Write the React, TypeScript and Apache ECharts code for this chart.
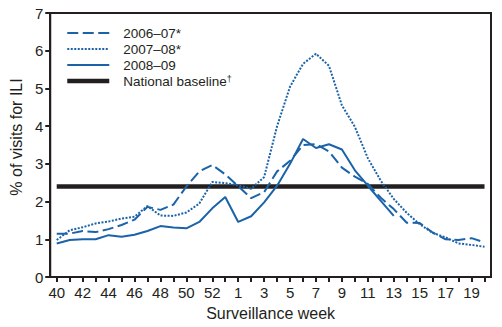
import React, { useEffect, useRef } from "react";
import * as echarts from "echarts";

const weeks = [
  "40","41","42","43","44","45","46","47","48","49","50","51","52","53",
  "1","2","3","4","5","6","7","8","9","10","11","12","13","14","15","16","17","18","19","20",
];

const season0607 = [
  1.15, 1.15, 1.22, 1.19, 1.27, 1.38, 1.52, 1.86, 1.78, 1.92, 2.4, 2.8, 2.97, 2.72,
  2.41, 2.09, 2.25, 2.8, 3.08, 3.5, 3.52, 3.33, 2.9, 2.66, 2.47, 2.1, 1.8, 1.44, 1.43, 1.18, 1.0, 0.98, 1.03, 0.92,
];

const season0708 = [
  0.98, 1.24, 1.32, 1.42, 1.47, 1.55, 1.6, 1.88, 1.63, 1.62, 1.71, 1.95, 2.52, 2.49,
  2.43, 2.34, 2.65, 4.0, 5.05, 5.65, 5.92, 5.6, 4.55, 3.98, 3.15, 2.55, 2.07, 1.7, 1.4, 1.17, 1.05, 0.89, 0.85, 0.8,
];

const season0809: (number | null)[] = [
  0.89, 0.98, 1.0, 1.0, 1.11, 1.07, 1.12, 1.22, 1.35, 1.31, 1.29, 1.46, 1.82, 2.12,
  1.46, 1.61, 1.98, 2.42, 3.0, 3.66, 3.42, 3.52, 3.38, 2.83, 2.42, 2.02, 1.62,
  null, null, null, null, null, null, null,
];

const baselineValue = 2.4;
const baselineStart = "40";
const baselineEnd = "20";

const yTicks = { min: 0, max: 7, interval: 1 };

const names = ["2006–07*", "2007–08*", "2008–09", "National baseline"];

const BLUE = "#1b63a9";
const INK = "#231f20";
const FONT = "'Liberation Sans', Arial, Helvetica, sans-serif";

const DASH = [11, 4.5];
const DOT = [2, 1.5];

export default function App() {
  const ref = useRef<HTMLDivElement>(null);
  useEffect(() => {
    if (!ref.current) return;
    const chart = echarts.init(ref.current, undefined, { renderer: "svg" });
    chart.setOption({
      animation: false,
      textStyle: { fontFamily: FONT, color: INK },
      grid: {
        left: 38,
        right: 11,
        top: 13,
        bottom: 50,
        show: true,
        borderColor: INK,
        borderWidth: 2,
        backgroundColor: "transparent",
      },
      legend: {
        orient: "vertical",
        left: 65,
        top: 26,
        padding: 0,
        itemWidth: 42,
        itemHeight: 14,
        itemGap: 2,
        data: [
          { name: names[0], lineStyle: { width: 2, type: DASH, color: BLUE } },
          { name: names[1], lineStyle: { width: 2, type: DOT, color: BLUE } },
          { name: names[2], lineStyle: { width: 2, color: BLUE } },
          { name: names[3], lineStyle: { width: 4.5, color: INK } },
        ],
        itemStyle: { opacity: 0 },
        formatter: (n: string) => (n === "National baseline" ? "National baseline{sup|†}" : n),
        textStyle: {
          fontFamily: FONT,
          fontSize: 13.5,
          color: INK,
          lineHeight: 14,
          padding: [0, 0, 0, 9],
          rich: {
            sup: { fontSize: 9, lineHeight: 14, verticalAlign: "top", padding: [0, 0, 6, 0], fontFamily: FONT, color: INK },
          },
        },
      },
      xAxis: {
        type: "category",
        data: weeks,
        boundaryGap: true,
        name: "Surveillance week",
        nameLocation: "middle",
        nameGap: 28,
        nameTextStyle: { fontSize: 16, color: INK, fontFamily: FONT },
        axisLine: { show: true, lineStyle: { color: INK, width: 2 } },
        axisTick: { show: true, alignWithLabel: true, interval: 0, length: 5, lineStyle: { color: INK, width: 2 } },
        axisLabel: { interval: 1, fontSize: 15, color: INK, margin: 8, fontFamily: FONT },
        splitLine: { show: false },
      },
      yAxis: {
        type: "value",
        min: yTicks.min,
        max: yTicks.max,
        interval: yTicks.interval,
        name: "% of visits for ILI",
        nameLocation: "middle",
        nameGap: 19,
        nameTextStyle: { fontSize: 16, color: INK, fontFamily: FONT, padding: [0, 0, 0, 16] },
        axisLine: { show: true, lineStyle: { color: INK, width: 2 } },
        axisTick: { show: true, length: 5, lineStyle: { color: INK, width: 2 } },
        axisLabel: { fontSize: 15, color: INK, margin: 7, fontFamily: FONT },
        splitLine: { show: false },
      },
      series: [
        {
          name: "National baseline",
          type: "line",
          symbol: "none",
          data: [
            [baselineStart, baselineValue],
            [baselineEnd, baselineValue],
          ],
          lineStyle: { color: INK, width: 4.5 },
          itemStyle: { color: INK },
          z: 1,
        },
        {
          name: "2006–07*",
          type: "line",
          symbol: "none",
          data: season0607,
          lineStyle: { color: BLUE, width: 2, type: DASH },
          itemStyle: { color: BLUE },
          z: 3,
        },
        {
          name: "2007–08*",
          type: "line",
          symbol: "none",
          data: season0708,
          lineStyle: { color: BLUE, width: 2, type: DOT },
          itemStyle: { color: BLUE },
          z: 3,
        },
        {
          name: "2008–09",
          type: "line",
          symbol: "none",
          data: season0809,
          connectNulls: false,
          lineStyle: { color: BLUE, width: 2 },
          itemStyle: { color: BLUE },
          z: 3,
        },
      ],
    });
    return () => chart.dispose();
  }, []);
  return (
    <div
      ref={ref}
      style={{ position: "fixed", left: 0, top: 0, width: 502, height: 327, background: "#fff" }}
    />
  );
}
